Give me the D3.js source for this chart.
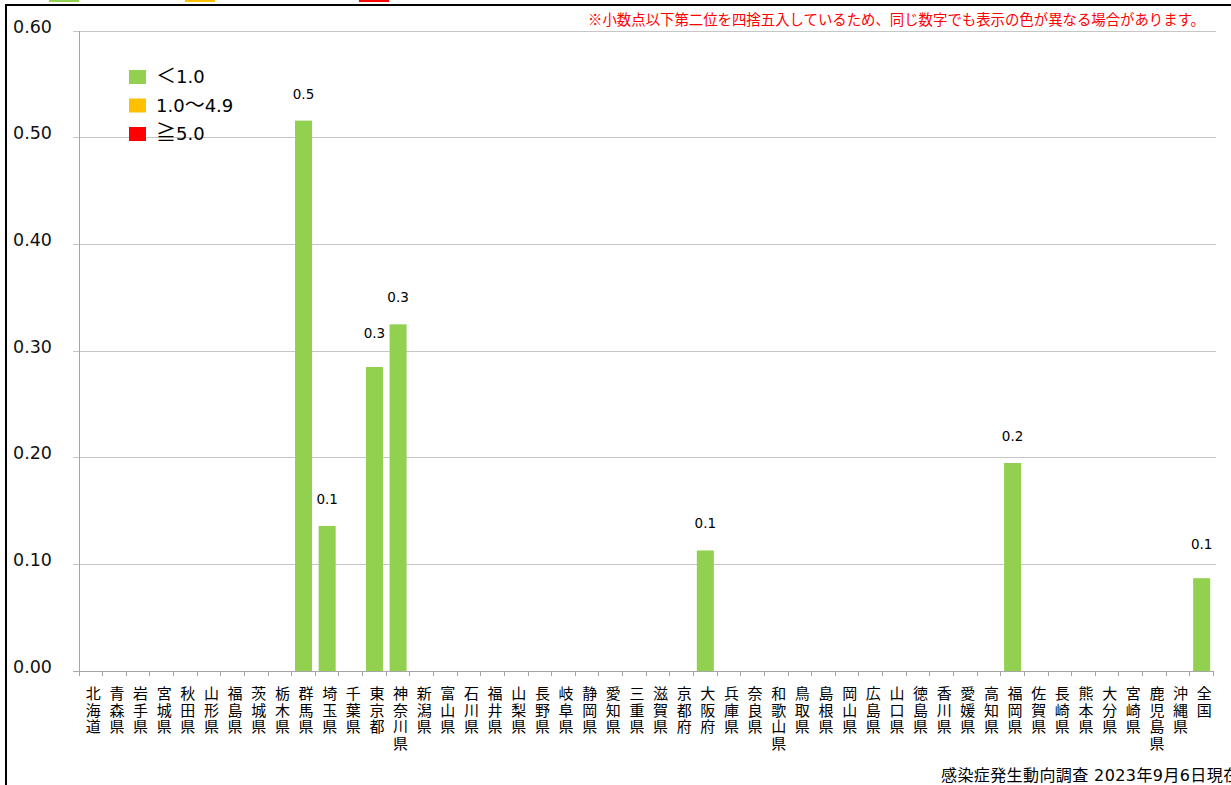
<!DOCTYPE html>
<html><head><meta charset="utf-8">
<script src="https://cdn.jsdelivr.net/npm/d3@7/dist/d3.min.js"></script>
<style>
html,body{margin:0;padding:0;background:#fff;overflow:hidden;}
svg{display:block;}
</style></head>
<body>
<svg id="chart" width="1231" height="785"></svg>
<script>
const prefectures = ["北海道","青森県","岩手県","宮城県","秋田県","山形県","福島県","茨城県","栃木県","群馬県","埼玉県","千葉県","東京都","神奈川県","新潟県","富山県","石川県","福井県","山梨県","長野県","岐阜県","静岡県","愛知県","三重県","滋賀県","京都府","大阪府","兵庫県","奈良県","和歌山県","鳥取県","島根県","岡山県","広島県","山口県","徳島県","香川県","愛媛県","高知県","福岡県","佐賀県","長崎県","熊本県","大分県","宮崎県","鹿児島県","沖縄県","全国"];
const values = [0,0,0,0,0,0,0,0,0,0.516,0.136,0,0.285,0.325,0,0,0,0,0,0,0,0,0,0,0,0,0.113,0,0,0,0,0,0,0,0,0,0,0,0,0.195,0,0,0,0,0,0,0,0.087];
const yTicks = [0,0.1,0.2,0.3,0.4,0.5,0.6];
const legendSymbols = ["＜","","≧"];
const legendLabels = ["1.0","1.0～4.9","5.0"];
const legendColors = ["#92d050","#ffc000","#ff0000"];
const noteText = "※小数点以下第二位を四捨五入しているため、同じ数字でも表示の色が異なる場合があります。";
const sourceText = "感染症発生動向調査 2023年9月6日現在";

(function(){
const svg = d3.select("#chart");
const mLeft = 79, mRight = 1213.5, mTop = 31, mBottom = 671;
const latin = "'DejaVu Sans', Verdana, 'Noto Sans CJK JP', sans-serif";
const cjk = "'Noto Sans CJK JP', sans-serif";

// outer frame
svg.append("rect").attr("x",6).attr("y",5).attr("width",1240).attr("height",800)
  .attr("fill","none").attr("stroke","#000").attr("stroke-width",2);

// cropped legend swatches at very top
const topSw = [[49,79],[185,215],[359,389]];
topSw.forEach((s,i)=>{
  svg.append("rect").attr("x",s[0]).attr("y",-6).attr("width",s[1]-s[0]).attr("height",8).attr("fill",legendColors[i]);
});

const x = d3.scaleBand().domain(prefectures).range([mLeft,mRight]).paddingInner(0.28).paddingOuter(0.14);
const xb = d3.scaleBand().domain(prefectures).range([mLeft,mRight]);
const y = d3.scaleLinear().domain([0,0.6]).range([mBottom,mTop]);

// gridlines
svg.append("g").selectAll("line").data(yTicks.filter(d=>d>0)).join("line")
  .attr("x1",mLeft-6).attr("x2",mRight+2).attr("y1",d=>y(d)).attr("y2",d=>y(d))
  .attr("stroke","#c6c6c6").attr("stroke-width",1).attr("shape-rendering","crispEdges");

// y axis line
svg.append("line").attr("x1",mLeft).attr("x2",mLeft).attr("y1",mTop).attr("y2",mBottom)
  .attr("stroke","#a6a6a6").attr("shape-rendering","crispEdges");
svg.append("line").attr("x1",mLeft-6).attr("x2",mLeft).attr("y1",mBottom).attr("y2",mBottom)
  .attr("stroke","#a6a6a6").attr("shape-rendering","crispEdges");

// y labels
svg.append("g").selectAll("text").data(yTicks).join("text")
  .attr("x",52).attr("y",d=>y(d)).attr("dy","0.1em").attr("text-anchor","end")
  .attr("font-family",latin).attr("font-size",17.5).attr("fill","#111")
  .text(d=>d.toFixed(2));

// bars
const color = v => v < 1.0 ? legendColors[0] : (v < 5.0 ? legendColors[1] : legendColors[2]);
const rows = prefectures.map((p,i)=>({p,v:values[i]})).filter(d=>d.v>0);
svg.append("g").selectAll("rect").data(rows).join("rect")
  .attr("x",d=>x(d.p)).attr("width",x.bandwidth())
  .attr("y",d=>y(d.v)).attr("height",d=>y(0)-y(d.v))
  .attr("fill",d=>color(d.v));

// bar labels (labels of 東京都 and 全国 sit slightly higher, as in the source)
const lift = p => (p === "東京都" || p === "全国") ? 29 : 22;
svg.append("g").selectAll("text").data(rows).join("text")
  .attr("x",d=>xb(d.p)+xb.bandwidth()/2).attr("y",d=>y(d.v)-lift(d.p))
  .attr("text-anchor","middle")
  .attr("font-family",latin).attr("font-size",13.5).attr("fill","#000")
  .text(d=>d.v.toFixed(1));

// x axis line and ticks
svg.append("line").attr("x1",mLeft).attr("x2",mRight).attr("y1",mBottom).attr("y2",mBottom)
  .attr("stroke","#a6a6a6").attr("shape-rendering","crispEdges");
const bounds = prefectures.map(p=>xb(p)).concat([mRight]);
svg.append("g").selectAll("line").data(bounds).join("line")
  .attr("x1",d=>d).attr("x2",d=>d).attr("y1",mBottom).attr("y2",mBottom+5)
  .attr("stroke","#a6a6a6").attr("shape-rendering","crispEdges");

// x labels (vertical, one character per line)
const xl = svg.append("g");
prefectures.forEach(p=>{
  const cx = xb(p)+xb.bandwidth()/2+2.5;
  Array.from(p).forEach((ch,k)=>{
    xl.append("text").attr("text-anchor","middle").attr("x",cx).attr("y",699+k*16.7)
      .attr("font-family",cjk).attr("font-size",15).attr("fill","#000").text(ch);
  });
});

// legend
legendLabels.forEach((l,i)=>{
  const cy = 77 + i*28.5;
  svg.append("rect").attr("x",129).attr("y",cy-7).attr("width",17).attr("height",14).attr("fill",legendColors[i]);
  const t = svg.append("text").attr("x",156).attr("y",cy).attr("dy","0.36em")
    .attr("font-family",latin).attr("font-size",18).attr("fill","#000");
  if (legendSymbols[i]) {
    t.append("tspan").attr("font-family",cjk).attr("font-size",20).text(legendSymbols[i]);
    t.append("tspan").text(l);
  } else {
    const parts = l.split("～");
    t.append("tspan").text(parts[0]);
    t.append("tspan").attr("font-family",cjk).attr("font-size",20).text("～");
    t.append("tspan").text(parts[1]);
  }
});

// note
svg.append("text").attr("x",1205).attr("y",25).attr("text-anchor","end")
  .attr("font-family",cjk).attr("font-size",14.4).attr("fill","#ff0000").text(noteText);

// source
svg.append("text").attr("x",941).attr("y",781)
  .attr("font-family",latin).attr("font-size",16).attr("letter-spacing",0.4).attr("fill","#000").text(sourceText);
})();
</script>
</body></html>
